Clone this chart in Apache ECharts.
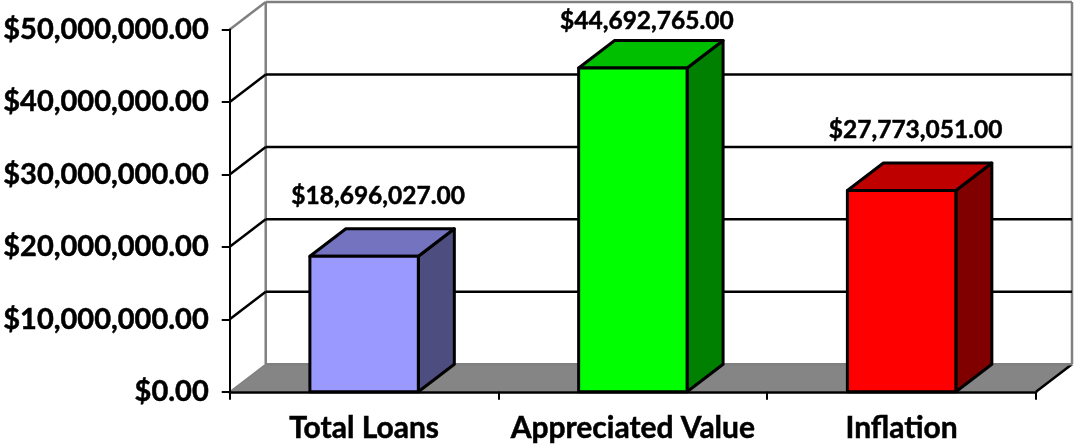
<!DOCTYPE html>
<html><head><meta charset="utf-8">
<style>html,body{margin:0;padding:0;background:#fff}#c{width:1074px;height:444px}</style>
<script src="https://cdn.jsdelivr.net/npm/echarts@6/dist/echarts.min.js"></script>
</head><body><div id="c"></div>
<script>
const categories = ['Total Loans', 'Appreciated Value', 'Inflation'];
const amounts = [18696027, 44692765, 27773051];
const amountLabels = ['$18,696,027.00', '$44,692,765.00', '$27,773,051.00'];
const yTicks = [0, 10000000, 20000000, 30000000, 40000000, 50000000];
const frontColors = ['#9999FF', '#00FF00', '#FF0000'];
const topColors = ['#7373BF', '#00BF00', '#BF0000'];
const sideColors = ['#4D4D80', '#008000', '#800000'];

const FONT = 'Lato, "Open Sans", sans-serif';
const DX = 36, DY = -27.5, GREY = '#808080', FLOOR = '#858585';
const yMax = yTicks[yTicks.length - 1];
const money = v => '$' + v.toLocaleString('en-US', {minimumFractionDigits: 2, maximumFractionDigits: 2});

const chart = echarts.init(document.getElementById('c'), null, {renderer: 'canvas'});
chart.setOption({
  animation: false,
  backgroundColor: '#fff',
  grid: {left: 229.5, top: 29.5, width: 806.5, height: 362.5, containLabel: false},
  xAxis: {
    type: 'category', data: categories, boundaryGap: true, z: 5,
    axisLine: {show: true, onZero: false, lineStyle: {color: '#000', width: 2.5}},
    axisTick: {show: true, length: 8, alignWithLabel: false, lineStyle: {color: '#000', width: 2}},
    axisLabel: {color: '#000', fontFamily: FONT, fontWeight: 'bold', fontSize: 30, margin: 22, interval: 0,
                textBorderColor: '#000', textBorderWidth: 0.5},
    splitLine: {show: false}
  },
  yAxis: {
    type: 'value', min: 0, max: yMax, interval: 10000000, z: 5,
    axisLine: {show: true, lineStyle: {color: '#000', width: 2}},
    axisTick: {show: true, length: 8, lineStyle: {color: '#000', width: 2}},
    axisLabel: {color: '#000', fontFamily: FONT, fontWeight: 'bold', fontSize: 29, margin: 21, formatter: money,
                padding: [3, 0, 0, 0], textBorderColor: '#000', textBorderWidth: 0.5},
    splitLine: {show: false}
  },
  series: [
    { // floor and back-wall edges
      type: 'custom', silent: true, z: 1, clip: false,
      data: [[0, 0]],
      renderItem(params, api) {
        const c = params.coordSys, y0 = api.coord([0, 0])[1], yT = api.coord([0, yMax])[1];
        const x0 = c.x, x1 = c.x + c.width;
        return {type: 'group', children: [
          {type: 'polygon', shape: {points: [[x0, y0], [x1, y0], [x1 + DX, y0 + DY], [x0 + DX, y0 + DY]]},
           style: {fill: FLOOR, stroke: null}},
          {type: 'line', shape: {x1: x1, y1: y0, x2: x1 + DX, y2: y0 + DY}, style: {stroke: '#000', lineWidth: 2.5}},
          {type: 'line', shape: {x1: x0 + DX, y1: y0 + DY, x2: x1 + DX, y2: y0 + DY}, style: {stroke: GREY, lineWidth: 2.5}},
          {type: 'line', shape: {x1: x0 + DX, y1: yT + DY, x2: x0 + DX, y2: y0 + DY}, style: {stroke: GREY, lineWidth: 2.5}},
          {type: 'line', shape: {x1: x1 + DX, y1: yT + DY, x2: x1 + DX, y2: y0 + DY}, style: {stroke: GREY, lineWidth: 2.5}}
        ]};
      }
    },
    { // gridlines along side wall and back wall
      type: 'custom', silent: true, z: 2, clip: false,
      data: yTicks.map(v => [0, v]),
      renderItem(params, api) {
        const c = params.coordSys, v = api.value(1), y = api.coord([0, v])[1];
        const x0 = c.x, x1 = c.x + c.width;
        if (v === 0) {
          return {type: 'line', shape: {x1: x0, y1: y, x2: x0 + DX, y2: y + DY}, style: {stroke: GREY, lineWidth: 1.5}};
        }
        const col = v === yMax ? GREY : '#000', lw = 2.5;
        return {type: 'group', children: [
          {type: 'line', shape: {x1: x0, y1: y, x2: x0 + DX, y2: y + DY}, style: {stroke: col, lineWidth: lw}},
          {type: 'line', shape: {x1: x0 + DX, y1: y + DY, x2: x1 + DX, y2: y + DY}, style: {stroke: col, lineWidth: lw}}
        ]};
      }
    },
    { // 3-D bars
      type: 'custom', z: 3, clip: false,
      data: amounts.map((v, i) => [i, v]),
      renderItem(params, api) {
        const i = api.value(0), v = api.value(1);
        const top = api.coord([i, v]), base = api.coord([i, 0]);
        const w = api.size([1, 0])[0] * 0.4035;
        const l = top[0] - w / 2, r = top[0] + w / 2, t = top[1], b = base[1];
        const edge = {stroke: '#000', lineWidth: 3, lineJoin: 'round'};
        const labelY = Math.max(t - 60, 21);
        const labelX = top[0] + 14;
        return {type: 'group', children: [
          {type: 'polygon', shape: {points: [[r, b], [r + DX, b + DY], [r + DX, t + DY], [r, t]]},
           style: {fill: sideColors[i], ...edge}},
          {type: 'polygon', shape: {points: [[l, t], [r, t], [r + DX, t + DY], [l + DX, t + DY]]},
           style: {fill: topColors[i], ...edge}},
          {type: 'rect', shape: {x: l, y: t, width: r - l, height: b - t},
           style: {fill: frontColors[i], ...edge}},
          {type: 'text', x: labelX, y: labelY,
           style: {text: amountLabels[i], fill: '#000', font: 'bold 24.5px ' + FONT, align: 'center', verticalAlign: 'middle',
                   stroke: '#000', lineWidth: 0.5}}
        ]};
      }
    }
  ]
});
</script></body></html>
